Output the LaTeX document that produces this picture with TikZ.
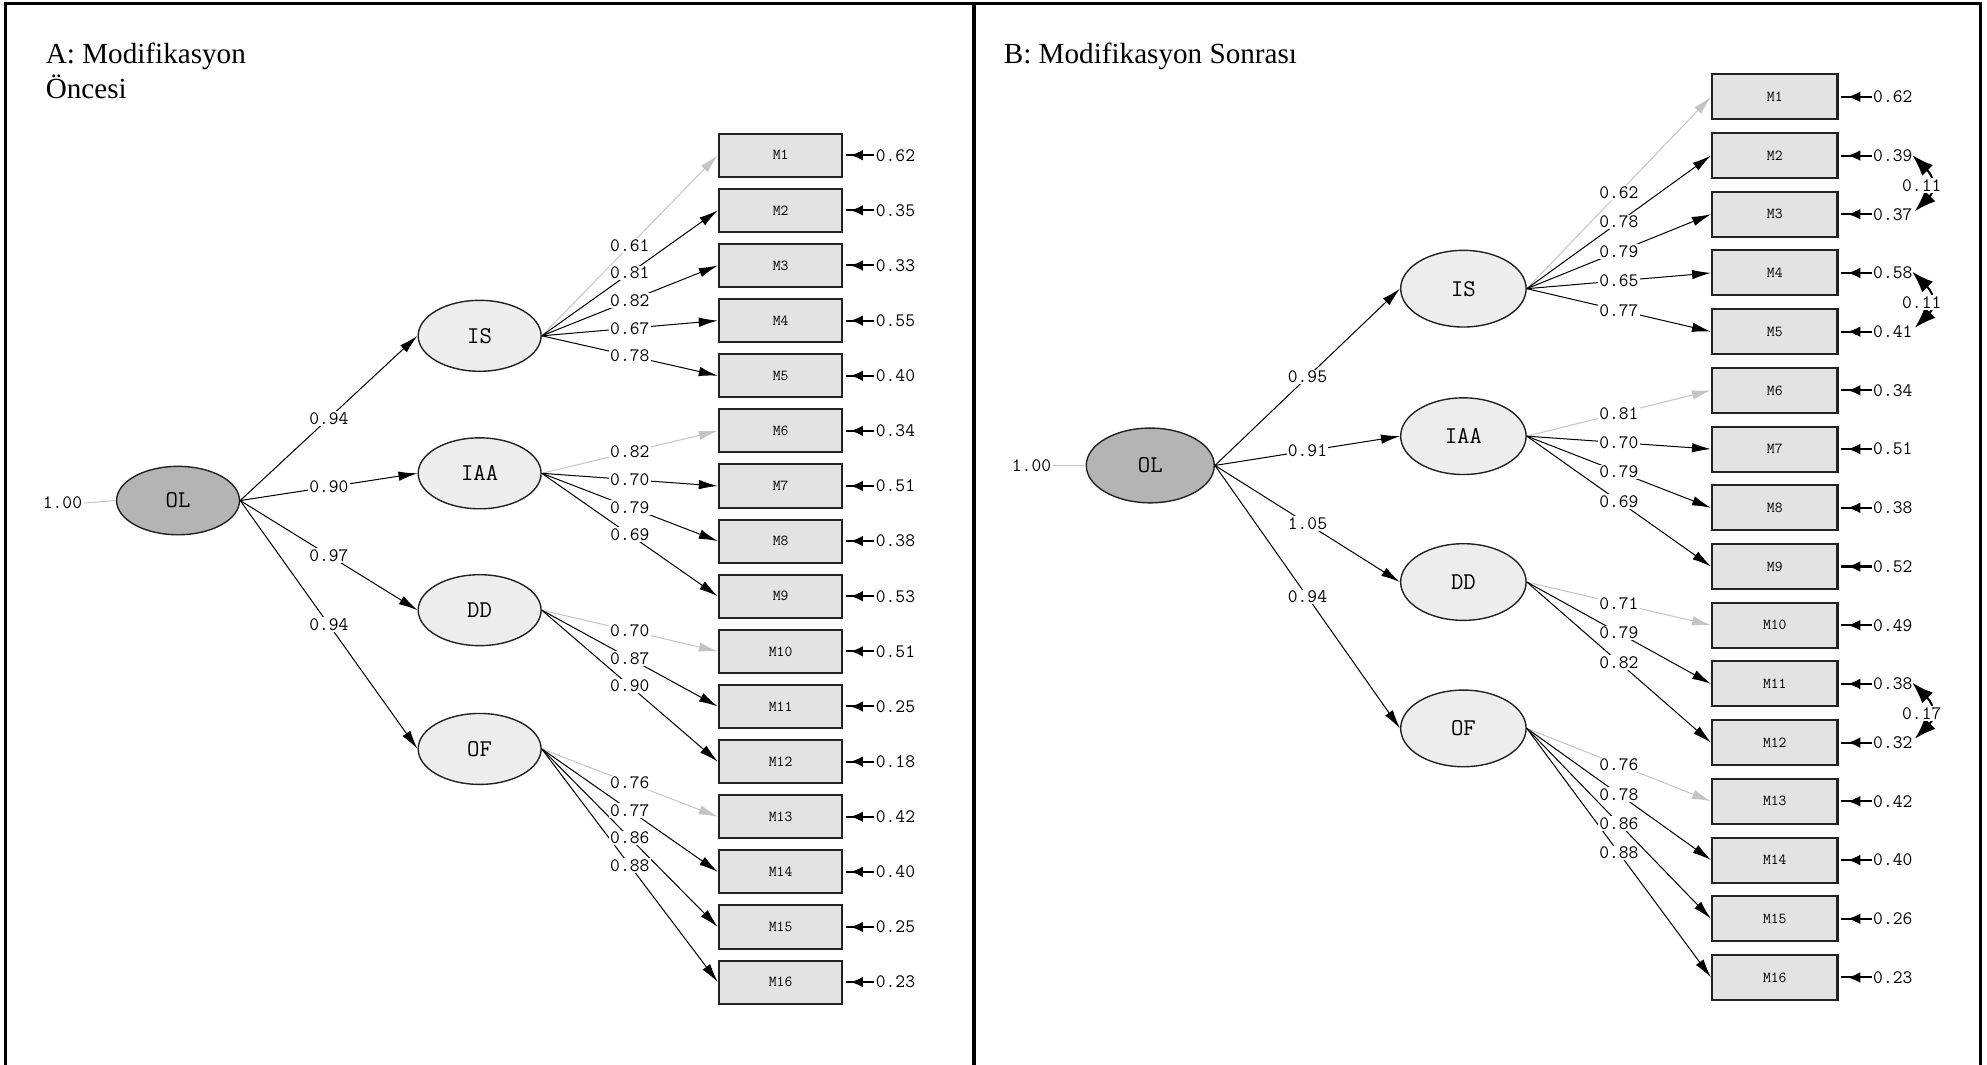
\documentclass[tikz,border=0pt]{standalone}
\usepackage{fontspec}
\setmainfont{Liberation Serif}
\usetikzlibrary{arrows.meta,decorations.markings,shapes.geometric}
\definecolor{olgray}{HTML}{B4B4B4}
\definecolor{latfill}{HTML}{EDEDED}
\definecolor{boxfill}{HTML}{E3E3E3}
\definecolor{lgray}{HTML}{C4C4C4}
\definecolor{edge}{HTML}{222222}
\begin{document}
\begin{tikzpicture}[x=1pt,y=-1pt,
 latent/.style={ellipse, draw=edge, line width=1.1pt, fill=latfill, inner sep=0pt, font=\fontsize{19}{19}\ttfamily},
 obs/.style={rectangle, draw=edge, line width=1.6pt, fill=boxfill, inner sep=0pt, font=\fontsize{12}{12}\ttfamily},
 lbl/.style={fill=white, inner sep=1pt, font=\fontsize{15}{15}\ttfamily},
 ld/.style={line width=0.8pt, -{Latex[length=15pt,width=7.5pt]}},
 errlbl/.style={anchor=west, inner sep=1pt, font=\fontsize{15}{15}\ttfamily},
 errarr/.style={line width=1.6pt, shorten >=2pt, postaction={decorate},
   decoration={markings,
     mark=at position 19pt with {\arrow{Latex[length=10pt,width=8.5pt]}},
     mark=at position 13pt with {\arrow{Rectangle[length=4pt,width=4.5pt]}}}},
 corr/.style={line width=1.6pt, {Latex[length=17pt,width=12pt]}-{Latex[length=17pt,width=12pt]}},
 ttl/.style={anchor=base west, inner sep=0pt, font=\fontsize{23}{26}\selectfont}
]
\useasboundingbox (0,0) rectangle (1568,840);
% frame
\draw[line width=2.4pt] (4,841) -- (4,2.6) -- (1563,2.6) -- (1563,841);
\draw[line width=2.4pt] (768.6,2.6) -- (768.6,841);

% titles
\node[ttl] (tA1) at (36,50.3) {A: Modifikasyon};
\node[ttl] (tA2) at (36,77.4) {Öncesi};
\node[ttl] (tB) at (792,50.3) {B: Modifikasyon Sonrası};

% ================= Panel A =================
\node[latent, fill=olgray, minimum width=97pt, minimum height=54pt] (aOL) at (140.5,395) {OL};
\node[lbl, fill=none] (aone) at (49.3,397) {1.00};
\draw[lgray, line width=0.8pt] (aone.east) -- (aOL.west);
\foreach \n/\yy in {IS/265, IAA/373.5, DD/481.5, OF/591}
  \node[latent, minimum width=97pt, minimum height=56pt] (a\n) at (378.5,\yy) {\n};
\foreach \i/\e in {1/0.62,2/0.35,3/0.33,4/0.55,5/0.40,6/0.34,7/0.51,8/0.38,9/0.53,10/0.51,11/0.25,12/0.18,13/0.42,14/0.40,15/0.25,16/0.23}{
  \pgfmathsetmacro\yy{122.5+(\i-1)*43.5}
  \node[obs, minimum width=97.5pt, minimum height=34pt] (aM\i) at (616,\yy) {M\i};
  \node[errlbl] (aE\i) at (690,\yy) {\e};
  \draw[errarr] (aE\i.west) -- (aM\i.east);
}
\foreach \f in {IS,IAA,DD,OF}
  \draw[ld] (aOL.east) -- (a\f.west);
\foreach \f/\m/\c in {IS/1/lgray,IS/2/black,IS/3/black,IS/4/black,IS/5/black,
  IAA/6/lgray,IAA/7/black,IAA/8/black,IAA/9/black,
  DD/10/lgray,DD/11/black,DD/12/black,
  OF/13/lgray,OF/14/black,OF/15/black,OF/16/black}
  \draw[ld, color=\c] (a\f.east) -- (aM\m.west);
\foreach \f/\v in {IS/0.94,IAA/0.90,DD/0.97,OF/0.94}
  \path (aOL.east) -- (a\f.west) node[lbl,pos=0.5] {\v};
\foreach \f/\m/\v in {IS/1/0.61,IS/2/0.81,IS/3/0.82,IS/4/0.67,IS/5/0.78,
  IAA/6/0.82,IAA/7/0.70,IAA/8/0.79,IAA/9/0.69,
  DD/10/0.70,DD/11/0.87,DD/12/0.90,
  OF/13/0.76,OF/14/0.77,OF/15/0.86,OF/16/0.88}
  \path (a\f.east) -- (aM\m.west) node[lbl,pos=0.5] {\v};

% ================= Panel B =================
\node[latent, fill=olgray, minimum width=101pt, minimum height=59pt] (bOL) at (907.7,367.3) {OL};
\node[lbl, fill=none] (bone) at (814,367.3) {1.00};
\draw[lgray, line width=0.8pt] (bone.east) -- (bOL.west);
\foreach \n/\yy in {IS/227.8, IAA/344.2, DD/459.3, OF/574.8}
  \node[latent, minimum width=99pt, minimum height=60.5pt] (b\n) at (1154.8,\yy) {\n};
\foreach \i/\e in {1/0.62,2/0.39,3/0.37,4/0.58,5/0.41,6/0.34,7/0.51,8/0.38,9/0.52,10/0.49,11/0.38,12/0.32,13/0.42,14/0.40,15/0.26,16/0.23}{
  \pgfmathsetmacro\yy{76.4+(\i-1)*46.33}
  \node[obs, minimum width=99pt, minimum height=35.5pt] (bM\i) at (1400.5,\yy) {M\i};
  \node[errlbl] (bE\i) at (1477,\yy) {\e};
  \draw[errarr] (bE\i.west) -- (bM\i.east);
}
\foreach \f in {IS,IAA,DD,OF}
  \draw[ld] (bOL.east) -- (b\f.west);
\foreach \f/\m/\c in {IS/1/lgray,IS/2/black,IS/3/black,IS/4/black,IS/5/black,
  IAA/6/lgray,IAA/7/black,IAA/8/black,IAA/9/black,
  DD/10/lgray,DD/11/black,DD/12/black,
  OF/13/lgray,OF/14/black,OF/15/black,OF/16/black}
  \draw[ld, color=\c] (b\f.east) -- (bM\m.west);
\foreach \f/\v in {IS/0.95,IAA/0.91,DD/1.05,OF/0.94}
  \path (bOL.east) -- (b\f.west) node[lbl,pos=0.5] {\v};
\foreach \f/\m/\v in {IS/1/0.62,IS/2/0.78,IS/3/0.79,IS/4/0.65,IS/5/0.77,
  IAA/6/0.81,IAA/7/0.70,IAA/8/0.79,IAA/9/0.69,
  DD/10/0.71,DD/11/0.79,DD/12/0.82,
  OF/13/0.76,OF/14/0.78,OF/15/0.86,OF/16/0.88}
  \path (b\f.east) -- (bM\m.west) node[lbl,pos=0.5] {\v};

% correlated errors
\foreach \k/\ya/\yb/\v in {1/123.4/169.73/0.11, 2/215.4/261.7/0.11, 3/539.7/586.0/0.17}{
  \pgfmathsetmacro\ys{\ya-1}
  \pgfmathsetmacro\ye{\yb-3}
  \pgfmathsetmacro\yca{\ya+17}
  \pgfmathsetmacro\ycb{\yb-19}
  \pgfmathsetmacro\ym{(\ya+\yb)/2}
  \coordinate (cs\k) at (1509,\ys);
  \coordinate (ce\k) at (1511,\ye);
  \coordinate (ca\k) at (1527,\yca);
  \coordinate (cb\k) at (1527,\ycb);
  \draw[corr] (cs\k) .. controls (ca\k) and (cb\k) .. (ce\k);
  \node[lbl] (cl\k) at (1516.5,\ym) {\v};
}
\end{tikzpicture}
\end{document}
